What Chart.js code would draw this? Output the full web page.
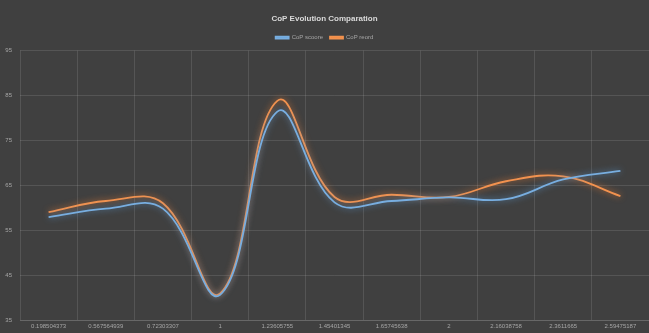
<!DOCTYPE html>
<html>
<head>
<meta charset="utf-8">
<script src="https://cdn.jsdelivr.net/npm/chart.js@4"></script>
<style>
  html, body { margin: 0; padding: 0; background: #404040; }
  #wrap { width: 649px; height: 333px; }
</style>
</head>
<body>
<div id="wrap"><canvas id="c" width="649" height="333"></canvas></div>
<script>
const categories = ["0.198504373","0.567564939","0.72303307","1","1.23605755","1.45401345","1.65745638","2","2.16038758","2.3611665","2.59475187"];
const seriesNames = ["CoP scoore", "CoP reord"];
const copScore = [57.9, 59.8, 59.8, 40.6, 81.4, 61.2, 61.5, 62.3, 61.9, 66.3, 68.2];
const copRecord = [59.0, 61.5, 61.0, 40.9, 83.8, 62.4, 62.9, 62.4, 65.9, 67.0, 62.6];
const yTicks = [35, 45, 55, 65, 75, 85, 95];

const bgPlugin = {
  id: 'bg',
  beforeDraw(chart) {
    const ctx = chart.ctx;
    ctx.save();
    ctx.fillStyle = '#404040';
    ctx.fillRect(0, 0, chart.width, chart.height);
    ctx.restore();
  }
};
const glowPlugin = {
  id: 'glow',
  beforeDatasetDraw(chart, args) {
    const ds = chart.data.datasets[args.index];
    const ctx = chart.ctx;
    ctx.save();
    ctx.shadowColor = ds.glowColor;
    ctx.shadowBlur = 6;
  },
  afterDatasetDraw(chart) {
    chart.ctx.restore();
  }
};

new Chart(document.getElementById('c'), {
  type: 'line',
  data: {
    labels: categories,
    datasets: [
      { label: seriesNames[0], data: copScore, borderColor: '#78aee0', backgroundColor: '#5b9bd5', glowColor: 'rgba(91,155,213,0.85)', borderWidth: 1.8, pointRadius: 0, tension: 0.4, fill: false },
      { label: seriesNames[1], data: copRecord, borderColor: '#f2924f', backgroundColor: '#ed7d31', glowColor: 'rgba(237,125,49,0.85)', borderWidth: 1.8, pointRadius: 0, tension: 0.4, fill: false }
    ]
  },
  options: {
    responsive: false,
    animation: false,
    layout: { padding: { top: 3, left: 0, right: 0, bottom: 0 } },
    plugins: {
      title: {
        display: true,
        text: 'CoP Evolution Comparation',
        color: '#d9d9d9',
        font: { family: 'Liberation Sans', size: 8, weight: 'bold' },
        padding: { top: 11, bottom: 4 }
      },
      legend: {
        display: true,
        labels: {
          color: '#a6a6a6',
          font: { family: 'Liberation Sans', size: 6 },
          boxWidth: 13,
          boxHeight: 2,
          padding: 7
        }
      },
      tooltip: { enabled: false }
    },
    scales: {
      x: {
        offset: true,
        grid: { color: 'rgba(255,255,255,0.11)', offset: true, drawTicks: false },
        border: { color: 'rgba(255,255,255,0.11)' },
        ticks: { color: '#a6a6a6', font: { family: 'Liberation Sans', size: 6 }, maxRotation: 0, autoSkip: false, padding: 3 },
        afterFit(scale) { scale.height = 13; }
      },
      y: {
        min: 35,
        max: 95,
        afterBuildTicks(scale) { scale.ticks = yTicks.map(v => ({ value: v })); },
        grid: { color: 'rgba(255,255,255,0.11)', drawTicks: false },
        border: { display: false },
        ticks: { color: '#a6a6a6', font: { family: 'Liberation Sans', size: 6 }, padding: 8 },
        afterFit(scale) { scale.width = 20; }
      }
    }
  },
  plugins: [bgPlugin, glowPlugin]
});
</script>
</body>
</html>
